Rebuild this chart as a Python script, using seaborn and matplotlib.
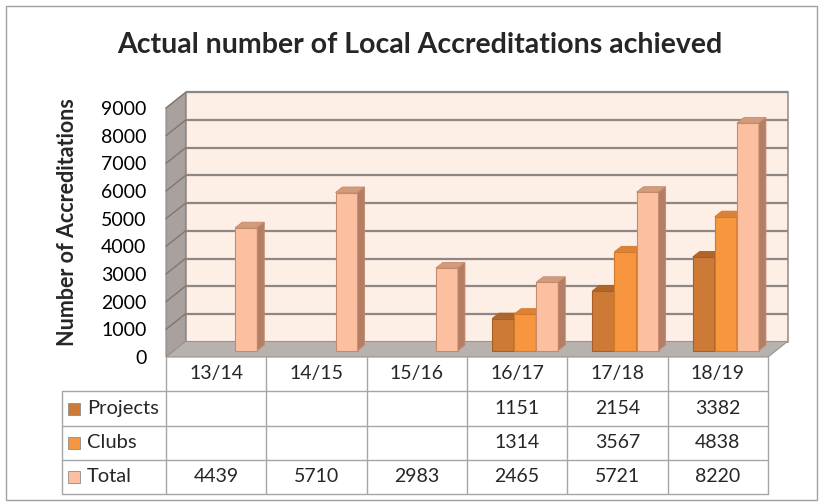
import numpy as np
import pandas as pd
import matplotlib
matplotlib.use("Agg")
import matplotlib.pyplot as plt
import seaborn as sns
from matplotlib.patches import Polygon, Rectangle
from matplotlib.transforms import ScaledTranslation, blended_transform_factory

# ── data ─────────────────────────────────────────────────────────────────────
years = ["13/14", "14/15", "15/16", "16/17", "17/18", "18/19"]
projects = [np.nan, np.nan, np.nan, 1151, 2154, 3382]
clubs = [np.nan, np.nan, np.nan, 1314, 3567, 4838]
total = [4439, 5710, 2983, 2465, 5721, 8220]
series_names = ["Projects", "Clubs", "Total"]
y_ticks = list(range(0, 9001, 1000))

title = "Actual number of Local Accreditations achieved"
y_label = "Number of Accreditations"

# colours (front, top, side, edge)
front_col = {"Projects": "#CC7A35", "Clubs": "#F8963F", "Total": "#FCC0A0"}
top_col = {"Projects": "#B0662A", "Clubs": "#DC8236", "Total": "#D49A7C"}
side_col = {"Projects": "#9A5A26", "Clubs": "#C07032", "Total": "#B47E66"}
edge_col = {"Projects": "#A85E22", "Clubs": "#D27A2C", "Total": "#C48A6C"}

df = pd.DataFrame({
    "year": years * 3,
    "series": [s for s in series_names for _ in years],
    "value": projects + clubs + total,
})

sns.set_style("white")
plt.rcParams["font.family"] = ["Lato", "DejaVu Sans"]

W, H = 824, 504
fig = plt.figure(figsize=(W / 100, H / 100), dpi=100)

# front plane of the 3D box, in pixels
left_px, right_px, bot_px, top_px = 166, 768, 357, 108
ax = fig.add_axes([left_px / W, 1 - bot_px / H, (right_px - left_px) / W, (bot_px - top_px) / H])

sns.barplot(data=df, x="year", y="value", hue="series", hue_order=series_names,
            order=years, palette=front_col, width=0.66, dodge=True, errorbar=None,
            saturation=1, legend=False, ax=ax, linewidth=0.8)
bars = list(ax.patches)

ax.set_xlim(-0.5, 5.5)
ax.set_ylim(0, 9000)
ax.patch.set_visible(False)
for sp in ax.spines.values():
    sp.set_visible(False)
ax.set_xticks([])
ax.set_xlabel("")
ax.set_ylabel("")
ax.set_yticks(y_ticks)
ax.set_yticklabels([str(v) for v in y_ticks], fontsize=14, color="#000000")
ax.tick_params(axis="y", length=0, pad=14)

pxx = (right_px - left_px) / 6.0      # pixels per category
pxy = (bot_px - top_px) / 9000.0      # pixels per unit

def shifted(dx, dy):
    return ax.transData + ScaledTranslation(dx / 100, dy / 100, fig.dpi_scale_trans)

# walls
WX, WY = 19.5, 15.5
wx, wy = WX / pxx, WY / pxy
x0, x1 = -0.5, 5.5
ax.add_patch(Rectangle((x0, 0), 6, 9000, transform=shifted(WX, WY),
                       facecolor="#FDEEE6", edgecolor="#9A9390", lw=1.2,
                       zorder=0.1, clip_on=False))
ax.add_patch(Polygon([(x0, 0), (x0, 9000), (x0 + wx, 9000 + wy), (x0 + wx, wy)],
                     closed=True, facecolor="#A8A19E", edgecolor="#8E8784", lw=0.8,
                     zorder=0.2, clip_on=False))
ax.add_patch(Polygon([(x0, 0), (x1, 0), (x1 + wx, wy), (x0 + wx, wy)],
                     closed=True, facecolor="#B8B2AF", edgecolor="#9A9390", lw=0.8,
                     zorder=0.3, clip_on=False))
for v in y_ticks[1:]:
    ax.plot([x0 + wx, x1 + wx], [v + wy, v + wy], color="#8F8784", lw=1.6,
            zorder=0.25, clip_on=False, solid_capstyle="butt")
    ax.plot([x0, x0 + wx], [v, v + wy], color="#7F7774", lw=1.0,
            zorder=0.25, clip_on=False)

# 3D bars: front face shifted back, plus top and side faces
BX, BY = 8, 6.5
DX, DY = 7, 5.5
dx, dy = DX / pxx, DY / pxy
btrans = shifted(BX, BY)
n = len(years)
for i, p in enumerate(bars):
    h = p.get_height()
    if not np.isfinite(h) or h <= 0:
        p.set_visible(False)
        continue
    fc = matplotlib.colors.to_hex(p.get_facecolor())
    s = [k for k, c in front_col.items() if c.lower() == fc.lower()][0]
    xl = p.get_x()
    xr = xl + p.get_width()
    z = 2 + xl * 0.1
    p.set_transform(btrans)
    p.set_edgecolor(edge_col[s])
    p.set_zorder(z)
    ax.add_patch(Polygon([(xl, h), (xr, h), (xr + dx, h + dy), (xl + dx, h + dy)],
                         closed=True, transform=btrans, facecolor=top_col[s],
                         edgecolor=edge_col[s], lw=0.6, zorder=z + 0.001, clip_on=False))
    ax.add_patch(Polygon([(xr, 0), (xr, h), (xr + dx, h + dy), (xr + dx, dy)],
                         closed=True, transform=btrans, facecolor=side_col[s],
                         edgecolor=edge_col[s], lw=0.6, zorder=z + 0.001, clip_on=False))
    p.set_clip_on(False)

# ── data table ───────────────────────────────────────────────────────────────
tt = blended_transform_factory(ax.transData, fig.transFigure)
fy = lambda py: 1 - py / H
table_left = x0 - (left_px - 62) / pxx
row_lines = [357, 391, 426, 460, 494]
grid_c = "#A6A6A6"

for yl in row_lines[1:]:
    fig.add_artist(plt.Line2D([table_left, x1], [fy(yl), fy(yl)], transform=tt,
                              color=grid_c, lw=1))
for k in range(n + 1):
    xv = x0 + k
    fig.add_artist(plt.Line2D([xv, xv], [fy(357), fy(494)], transform=tt,
                              color=grid_c, lw=1))
fig.add_artist(plt.Line2D([table_left, table_left], [fy(391), fy(494)], transform=tt,
                          color=grid_c, lw=1))

for k, yr in enumerate(years):
    fig.text(k, fy(374), yr, transform=tt, ha="center", va="center", fontsize=14)

row_vals = [projects, clubs, total]
for r, (s, vals) in enumerate(zip(series_names, row_vals)):
    yc = (row_lines[r + 1] + row_lines[r + 2]) / 2
    sq_x = table_left + 6 / pxx
    fig.add_artist(Rectangle((sq_x, fy(yc + 6)), 12 / pxx, 12 / H, transform=tt,
                             facecolor=front_col[s], edgecolor="#8C8C8C", lw=0.6))
    fig.text(table_left + 25 / pxx, fy(yc), s, transform=tt, ha="left", va="center",
             fontsize=14.5)
    for k, v in enumerate(vals):
        if np.isfinite(v):
            fig.text(k, fy(yc), f"{int(v)}", transform=tt, ha="center", va="center",
                     fontsize=14)

# titles and frame
fig.text(420 / W, fy(45), title, ha="center", va="center", fontsize=20.5, fontweight="bold")
fig.text(67 / W, fy(222), y_label, ha="center", va="center", rotation=90,
         fontsize=15.5, fontweight="bold")
fig.add_artist(Rectangle((6 / W, fy(500)), 811 / W, 494 / H, transform=fig.transFigure,
                         fill=False, edgecolor="#A0A0A0", lw=1))

fig.savefig("out.png", dpi=100)
